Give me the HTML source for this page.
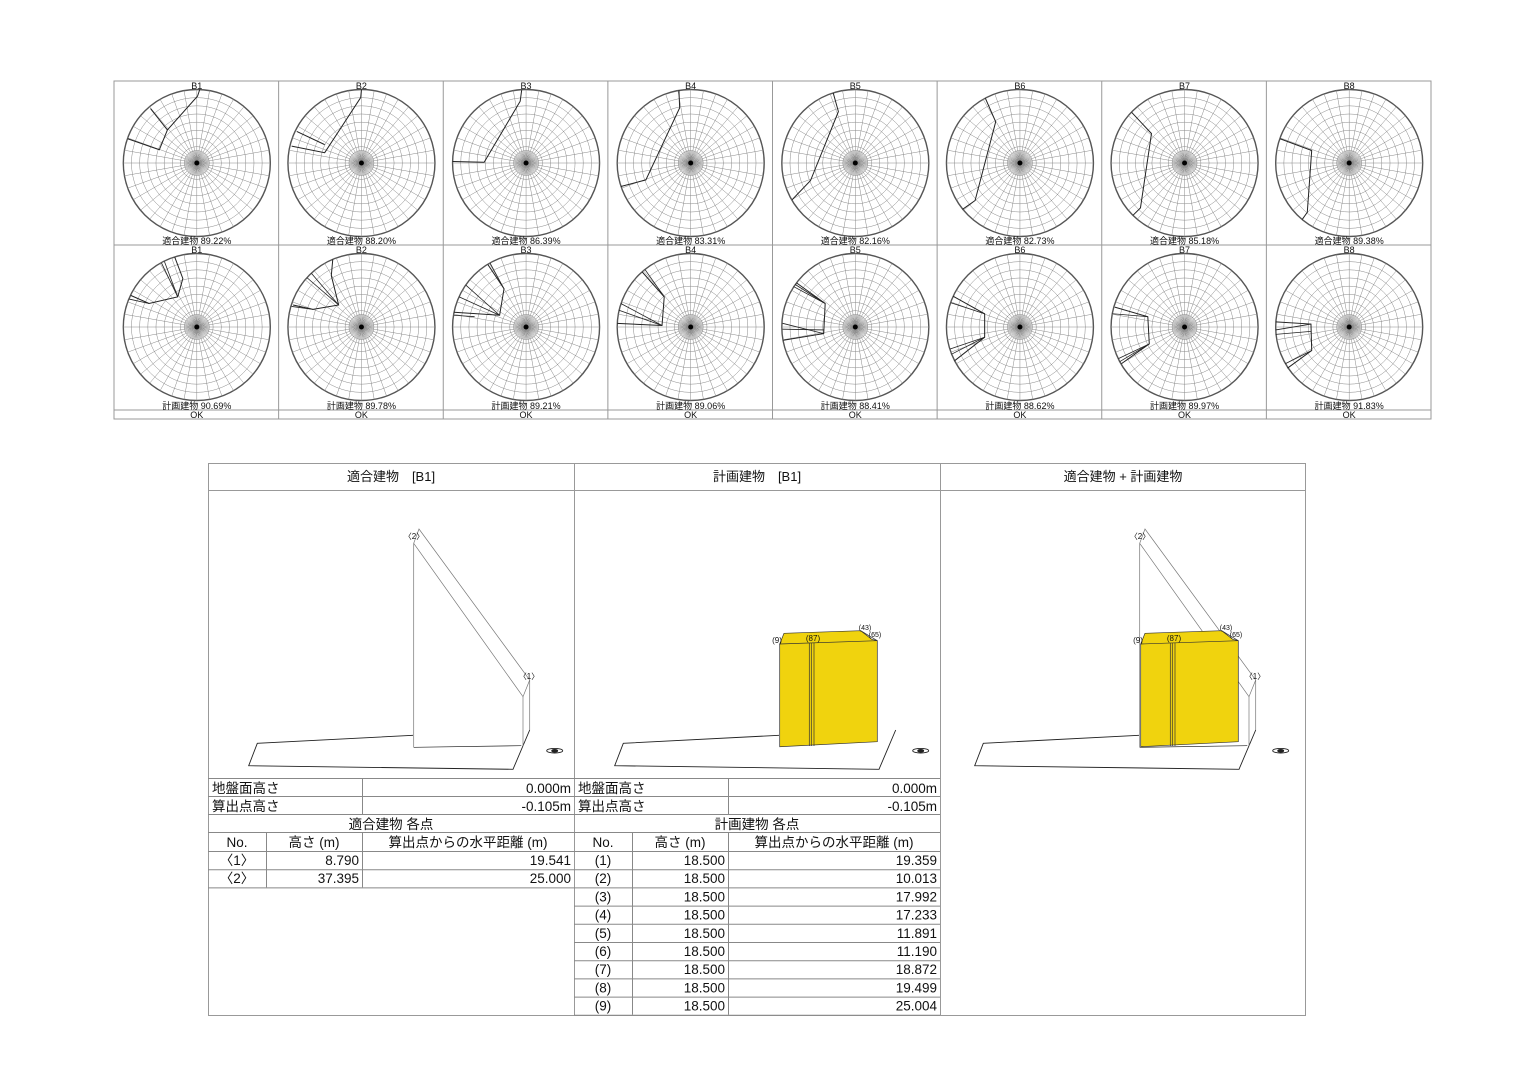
<!DOCTYPE html>
<html><head><meta charset="utf-8"><style>
body{margin:0;background:#fff;}
svg text{font-family:"Liberation Sans","Noto Sans CJK JP",sans-serif;}
</style></head><body>
<svg id="s" width="1536" height="1086" xmlns="http://www.w3.org/2000/svg">
<g id="topg" stroke="#888" fill="none" stroke-width="1"></g>
<g id="botg"></g>
</svg>
<script>
(function(){
const NS="http://www.w3.org/2000/svg";
const tg=document.getElementById('topg'),bg=document.getElementById('botg');
function el(p,tag,a,txt){const e=document.createElementNS(NS,tag);for(const k in a)e.setAttribute(k,a[k]);if(txt!=null)e.textContent=txt;p.appendChild(e);return e;}
function T(p,x,y,t,sz,anc,extra){const a={x:x,y:y,'font-size':sz,'text-anchor':anc||'middle',fill:'#111',stroke:'none'};Object.assign(a,extra||{});return el(p,'text',a,t);}
const X0=114,X1=1431,W=(X1-X0)/8;
el(tg,'rect',{x:X0,y:81,width:X1-X0,height:338,stroke:'#999'});
el(tg,'line',{x1:X0,y1:245,x2:X1,y2:245,stroke:'#999'});
el(tg,'line',{x1:X0,y1:410,x2:X1,y2:410,stroke:'#999'});
for(let i=1;i<8;i++)el(tg,'line',{x1:X0+i*W,y1:81,x2:X0+i*W,y2:419,stroke:'#999'});
const p1=["89.22","88.20","86.39","83.31","82.16","82.73","85.18","89.38"];
const p2=["90.69","89.78","89.21","89.06","88.41","88.62","89.97","91.83"];
const s1=[
 [[[0.04,-1],[0.01,-0.91],[-0.4,-0.45],[-0.51,-0.18],[-0.94,-0.33]],[[-0.63,-0.74],[-0.4,-0.45]]],
 [[[0,-1],[-0.01,-0.89],[-0.5,-0.14],[-0.95,-0.23]],[[-0.88,-0.43],[-0.5,-0.25]]],
 [[[-0.06,-0.99],[-0.08,-0.84],[-0.57,-0.01],[-1,-0.02]]],
 [[[-0.16,-0.99],[-0.15,-0.75],[-0.61,0.23],[-0.95,0.32]]],
 [[[-0.3,-0.95],[-0.23,-0.7],[-0.61,0.24],[-0.86,0.5]]],
 [[[-0.47,-0.88],[-0.33,-0.56],[-0.61,0.51],[-0.78,0.63]]],
 [[[-0.72,-0.69],[-0.45,-0.4],[-0.6,0.61],[-0.7,0.71]]],
 [[[-0.94,-0.33],[-0.51,-0.17],[-0.57,0.67],[-0.64,0.77]]]
];
const s2=[
 {p:[[-0.9,-0.43],[-0.65,-0.32],[-0.26,-0.41],[-0.19,-0.66],[-0.3,-0.95]],f:[[[-0.26,-0.41],[-0.48,-0.87]],[[-0.26,-0.41],[-0.44,-0.89]],[[-0.65,-0.32],[-0.92,-0.38]]]},
 {p:[[-0.93,-0.3],[-0.66,-0.24],[-0.31,-0.3],[-0.41,-0.7],[-0.39,-0.92]],f:[[[-0.31,-0.3],[-0.68,-0.73]],[[-0.31,-0.3],[-0.74,-0.67]],[[-0.66,-0.24],[-0.95,-0.28]]]},
 {p:[[-0.52,-0.85],[-0.3,-0.52],[-0.36,-0.16],[-0.98,-0.2]],f:[[[-0.36,-0.16],[-0.82,-0.57]],[[-0.36,-0.16],[-0.91,-0.41]],[[-0.3,-0.52],[-0.49,-0.87]],[[-0.7,-0.14],[-0.98,-0.16]]]},
 {p:[[-0.66,-0.75],[-0.36,-0.41],[-0.39,-0.02],[-1,-0.05]],f:[[[-0.39,-0.02],[-0.95,-0.32]],[[-0.39,-0.02],[-0.98,-0.23]],[[-0.36,-0.41],[-0.62,-0.78]]]},
 {p:[[-0.8,-0.6],[-0.41,-0.32],[-0.43,0.09],[-0.98,0.18]],f:[[[-0.43,0.09],[-0.99,-0.05]],[[-0.43,0.04],[-0.99,0.03]],[[-0.41,-0.32],[-0.84,-0.55]],[[-0.41,-0.32],[-0.82,-0.58]]]},
 {p:[[-0.91,-0.42],[-0.48,-0.18],[-0.48,0.14],[-0.89,0.46]],f:[[[-0.48,-0.18],[-0.94,-0.33]],[[-0.48,0.14],[-0.95,0.3]],[[-0.48,0.14],[-0.93,0.37]]]},
 {p:[[-0.95,-0.27],[-0.5,-0.14],[-0.48,0.23],[-0.86,0.5]],f:[[[-0.5,-0.14],[-0.98,-0.18]],[[-0.48,0.23],[-0.9,0.43]],[[-0.48,0.23],[-0.88,0.47]]]},
 {p:[[-1,-0.07],[-0.52,-0.04],[-0.51,0.32],[-0.84,0.56]],f:[[[-0.52,-0.04],[-1,0.04]],[[-0.52,0.06],[-1,0.1]],[[-0.51,0.32],[-0.87,0.5]]]}
];
function polar(cx,cy,r){
 const g=el(tg,'g',{stroke:'#888','stroke-width':0.5});
 for(let k=2;k<=9;k++)el(g,'circle',{cx:cx,cy:cy,r:r*k/9});
 el(g,'circle',{cx:cx,cy:cy,r:r*0.17});
 el(g,'circle',{cx:cx,cy:cy,r:r,'stroke-width':1.4,stroke:'#555'});
 for(let a=0;a<360;a+=10){const t=a*Math.PI/180;el(g,'line',{x1:cx+r*0.02*Math.cos(t),y1:cy+r*0.02*Math.sin(t),x2:cx+r*Math.cos(t),y2:cy+r*Math.sin(t)});}
 for(let a=5;a<360;a+=10){const t=a*Math.PI/180;el(g,'line',{x1:cx,y1:cy,x2:cx+r*0.17*Math.cos(t),y2:cy+r*0.17*Math.sin(t)});}
 el(tg,'circle',{cx:cx,cy:cy,r:2.5,fill:'#000',stroke:'none'});
}
function pl(cx,cy,r,pts,w){el(tg,'polyline',{points:pts.map(p=>(cx+p[0]*r)+','+(cy+p[1]*r)).join(' '),stroke:'#222','stroke-width':w||1,fill:'none'});}
for(let i=0;i<8;i++){
 const cx=X0+W*i+W/2+0.5,r=73.5;
 T(tg,cx,89,'B'+(i+1),9);T(tg,cx,253,'B'+(i+1),9);
 polar(cx,163,r);polar(cx,327,r);
 s1[i].forEach(p=>pl(cx,163,r,p,1));
 pl(cx,327,r,s2[i].p,1);
 s2[i].f.forEach(f=>pl(cx,327,r,f,0.8));
 T(tg,cx,244,'適合建物 '+p1[i]+'%',9);T(tg,cx,409,'計画建物 '+p2[i]+'%',9);T(tg,cx,418,'OK',9);
}
const B=el(bg,'g',{stroke:'#999',fill:'none','stroke-width':1});
el(B,'rect',{x:208.5,y:463.5,width:1097,height:552});
el(B,'line',{x1:208,y1:490.5,x2:1306,y2:490.5});
el(B,'line',{x1:574.5,y1:463,x2:574.5,y2:1016});
el(B,'line',{x1:940.5,y1:463,x2:940.5,y2:1016});
T(bg,391,481,'適合建物　[B1]',13);T(bg,757,481,'計画建物　[B1]',13);T(bg,1123,481,'適合建物 + 計画建物',13);
function table(ox,title,rows){
 const g=el(bg,'g',{stroke:'#888',fill:'none','stroke-width':1});
 const ys=[778,796,814,832,851];let y=851;rows.forEach(()=>{y+=18.2;ys.push(y);});
 ys.forEach(v=>el(g,'line',{x1:ox,y1:v+0.5,x2:ox+366,y2:v+0.5}));
 el(g,'line',{x1:ox+154.5,y1:778,x2:ox+154.5,y2:814});
 el(g,'line',{x1:ox+58.5,y1:832,x2:ox+58.5,y2:ys[ys.length-1]});
 el(g,'line',{x1:ox+154.5,y1:832,x2:ox+154.5,y2:ys[ys.length-1]});
 const fs=13.5;
 T(bg,ox+4,793,'地盤面高さ',fs,'start');T(bg,ox+363,793,'0.000m',fs,'end');
 T(bg,ox+4,811,'算出点高さ',fs,'start');T(bg,ox+363,811,'-0.105m',fs,'end');
 T(bg,ox+183,829,title,fs);
 T(bg,ox+29,847,'No.',fs);T(bg,ox+106,847,'高さ (m)',fs);T(bg,ox+260,847,'算出点からの水平距離 (m)',fs);
 rows.forEach((r,i)=>{const yy=865+i*18.2;T(bg,ox+29,yy,r[0],fs);T(bg,ox+151,yy,r[1],fs,'end');T(bg,ox+363,yy,r[2],fs,'end');});
}
table(208,'適合建物 各点',[['〈1〉','8.790','19.541'],['〈2〉','37.395','25.000']]);
table(574,'計画建物 各点',[['(1)','18.500','19.359'],['(2)','18.500','10.013'],['(3)','18.500','17.992'],['(4)','18.500','17.233'],['(5)','18.500','11.891'],['(6)','18.500','11.190'],['(7)','18.500','18.872'],['(8)','18.500','19.499'],['(9)','18.500','25.004']]);
function ground(dx){const g=el(bg,'g',{transform:'translate('+dx+',0)',stroke:'#222',fill:'none','stroke-width':0.9});
 el(g,'polyline',{points:'413,735.3 257.3,743.3 248.7,765.7 513,769.3 529.7,730'});
 el(g,'ellipse',{cx:554.7,cy:750.7,rx:8,ry:2.3});el(g,'ellipse',{cx:554.7,cy:750.7,rx:3,ry:1.3,fill:'#222'});}
function wall(dx){const g=el(bg,'g',{transform:'translate('+dx+',0)',stroke:'#777',fill:'none','stroke-width':0.7});
 el(g,'polyline',{points:'413.7,747.3 413.7,543.3 419,529 529.7,680 523,696.7 413.7,543.3'});
 el(g,'line',{x1:523,y1:696.7,x2:523,y2:745.7});el(g,'line',{x1:529.7,y1:680,x2:529.7,y2:730});
 el(g,'line',{x1:413.7,y1:747.3,x2:521.3,y2:745.7,stroke:'#222'});
 T(g,414,539,'〈2〉',8);T(g,529,679,'〈1〉',8);}
function bldg(dx){const g=el(bg,'g',{transform:'translate('+dx+',0)',stroke:'#333','stroke-width':0.7});
 el(g,'polygon',{points:'779.7,644 784,633.3 860.7,630.7 871.7,639.3 877.3,640.7 877.3,741.7 779.7,746.7',fill:'#f0d30e'});
 el(g,'polyline',{points:'779.7,644 877.3,640.7',fill:'none'});
 el(g,'polyline',{points:'860.7,630.7 877.3,640.7',fill:'none'});
 [809.3,811.3,814].forEach(x=>el(g,'line',{x1:x,y1:643,x2:x,y2:746}));
 T(g,777,643,'(9)',8);T(g,813,641,'(87)',8);T(g,865,630,'(43)',7);T(g,875,637,'(65)',7);}
ground(0);wall(0);
ground(366);bldg(0);
ground(726);wall(726);bldg(361);
})();
</script>
</body></html>
